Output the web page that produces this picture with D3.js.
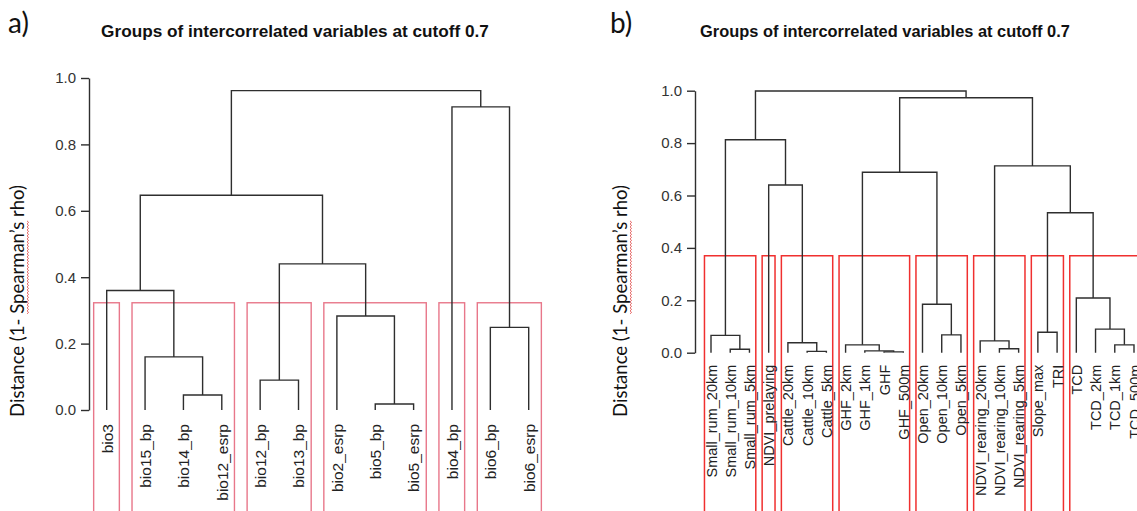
<!DOCTYPE html>
<html>
<head>
<meta charset="utf-8">
<script src="https://cdn.jsdelivr.net/npm/d3@7"></script>
<style>
    html, body { margin: 0; padding: 0; background: #fff; }
    svg { display: block; }
</style>
</head>
<body>
<div id="chart"></div>
<script>
// ---- data -------------------------------------------------------------
const titleText = "Groups of intercorrelated variables at cutoff 0.7";
const yLabel = "Distance (1- Spearman\u2019s rho)";
const yTicks = [0, 0.2, 0.4, 0.6, 0.8, 1.0];

// panel a) leaves, in dendrogram order
const leavesA = ["bio3", "bio15_bp", "bio14_bp", "bio12_esrp", "bio12_bp", "bio13_bp",
    "bio2_esrp", "bio5_bp", "bio5_esrp", "bio4_bp", "bio6_bp", "bio6_esrp"];
// merges like R hclust: negative = leaf (1-based), positive = earlier merge; [left, right, height]
const mergesA = [
    [-8, -9, 0.018],
    [-3, -4, 0.045],
    [-5, -6, 0.09],
    [-2, 2, 0.16],
    [-11, -12, 0.249],
    [-7, 1, 0.283],
    [-1, 4, 0.36],
    [3, 6, 0.44],
    [7, 8, 0.647],
    [-10, 5, 0.913],
    [9, 10, 0.962]
];
const groupsA = [1, 3, 2, 3, 1, 2];
const cutA = 0.323;

// panel b)
const leavesB = ["Small_rum_20km", "Small_rum_10km", "Small_rum_5km", "NDVI_prelaying",
    "Cattle_20km", "Cattle_10km", "Cattle_5km", "GHF_2km", "GHF_1km", "GHF", "GHF_500m",
    "Open_20km", "Open_10km", "Open_5km", "NDVI_rearing_20km", "NDVI_rearing_10km",
    "NDVI_rearing_5km", "Slope_max", "TRI", "TCD", "TCD_2km", "TCD_1km", "TCD_500m"];
const mergesB = [
    [-10, -11, 0.003],
    [-6, -7, 0.005],
    [-9, 1, 0.007],
    [-2, -3, 0.013],
    [-16, -17, 0.015],
    [-8, 3, 0.03],
    [-22, -23, 0.03],
    [-5, 2, 0.038],
    [-15, 5, 0.045],
    [-1, 4, 0.066],
    [-13, -14, 0.068],
    [-18, -19, 0.078],
    [-21, 7, 0.09],
    [-12, 11, 0.185],
    [-20, 13, 0.209],
    [12, 15, 0.534],
    [-4, 8, 0.64],
    [6, 14, 0.689],
    [9, 16, 0.713],
    [10, 17, 0.813],
    [18, 19, 0.973],
    [20, 21, 0.999]
];
const groupsB = [3, 1, 3, 4, 3, 3, 2, 4];
const cutB = 0.37;

// ---- layout -----------------------------------------------------------
const W = 1137, H = 511;
const panels = [
    {
        tag: "a)", tagX: 8, tagY: 33,
        leaves: leavesA, merges: mergesA, groups: groupsA, cut: cutA,
        xRange: [106.7, 528.7], yRange: [410, 78], axisX: 89,
        titleX: 295, titleSize: 17.2, labelX: 24, labelY: 301, labelSize: 15.5, leafGap: 14,
        boxColor: "#e8778a", boxWidth: 1.4
    },
    {
        tag: "b)", tagX: 610, tagY: 33,
        leaves: leavesB, merges: mergesB, groups: groupsB, cut: cutB,
        xRange: [711, 1134], yRange: [352.7, 90.7], axisX: 695,
        titleX: 885, titleSize: 16.4, labelX: 627, labelY: 301, labelSize: 14.5, leafGap: 12,
        boxColor: "#f0302f", boxWidth: 1.5
    }
];

const svg = d3.select("#chart").append("svg")
    .attr("width", W)
    .attr("height", H);

const ink = "#2e2e2e";
const arial = "'Liberation Sans', Arial, sans-serif";
const calibri = "Lato, 'Open Sans', sans-serif";

panels.forEach(p => drawPanel(p));

function drawPanel(p) {
    const n = p.leaves.length;
    const x = d3.scaleLinear().domain([1, n]).range(p.xRange);
    const y = d3.scaleLinear().domain([0, 1]).range(p.yRange);
    const g = svg.append("g");

    // panel tag + title
    g.append("text")
        .attr("x", p.tagX).attr("y", p.tagY)
        .attr("font-family", calibri).attr("font-size", 28)
        .attr("fill", "#111")
        .text(p.tag);

    g.append("text")
        .attr("x", p.titleX).attr("y", 37)
        .attr("text-anchor", "middle")
        .attr("font-family", arial).attr("font-weight", "bold")
        .attr("font-size", p.titleSize).attr("fill", "#111")
        .text(titleText);

    // axis
    const axis = d3.axisLeft(y)
        .tickValues(yTicks)
        .tickFormat(d3.format(".1f"))
        .tickSize(8)
        .tickSizeOuter(0)
        .tickPadding(5);
    const ax = g.append("g")
        .attr("transform", `translate(${p.axisX},0)`)
        .call(axis);
    ax.selectAll("path, line").attr("stroke", ink).attr("stroke-width", 1.4);
    ax.selectAll("text")
        .attr("font-family", arial).attr("font-size", 15)
        .attr("fill", "#333");

    // y label (Word-style text with spell-check squiggle)
    const lab = g.append("g")
        .attr("transform", `translate(${p.labelX},${p.labelY}) rotate(-90)`);
    const lt = lab.append("text")
        .attr("text-anchor", "middle")
        .attr("font-family", calibri).attr("font-size", 20)
        .attr("fill", "#111")
        .text(yLabel);
    const len0 = lt.node().getComputedTextLength();
    lt.attr("font-size", 20 * 232 / len0);
    const node = lt.node();
    const i0 = yLabel.indexOf("Spearman");
    const i1 = i0 + "Spearman\u2019s".length - 1;
    const sx = node.getStartPositionOfChar(i0).x;
    const ex = node.getEndPositionOfChar(i1).x;
    let d = `M${sx},3`;
    for (let t = sx, k = 0; t < ex; t += 1.5, k++) d += `L${t + 1.5},${k % 2 ? 3 : 4.6}`;
    lab.append("path").attr("d", d)
        .attr("fill", "none").attr("stroke", "#e0403f").attr("stroke-width", 0.8);

    // red cluster boxes
    let start = 1;
    const boxes = p.groups.map(c => {
        const b = { first: start, last: start + c - 1 };
        start += c;
        return b;
    });
    g.append("g").selectAll("rect")
        .data(boxes)
        .join("rect")
        .attr("x", b => x(b.first - 0.34))
        .attr("y", y(p.cut))
        .attr("width", b => x(b.last + 0.33) - x(b.first - 0.34))
        .attr("height", H + 20 - y(p.cut))
        .attr("fill", "none")
        .attr("stroke", p.boxColor)
        .attr("stroke-width", p.boxWidth);

    // dendrogram
    const nodes = [];
    const pos = k => k < 0 ? { x: x(-k), h: 0 } : nodes[k - 1];
    p.merges.forEach(([a, b, h]) => {
        const l = pos(a), r = pos(b);
        nodes.push({ x: (l.x + r.x) / 2, h, l, r });
    });
    g.append("g").selectAll("path")
        .data(nodes)
        .join("path")
        .attr("d", nd => `M${nd.l.x},${y(nd.l.h)}V${y(nd.h)}H${nd.r.x}V${y(nd.r.h)}`)
        .attr("fill", "none")
        .attr("stroke", ink)
        .attr("stroke-width", 1.4);

    // leaf labels
    g.append("g").selectAll("text")
        .data(p.leaves)
        .join("text")
        .attr("transform", (lbl, i) =>
            `translate(${x(i + 1) + 0.38 * p.labelSize},${y(0) + p.leafGap}) rotate(-90)`)
        .attr("text-anchor", "end")
        .attr("font-family", arial)
        .attr("font-size", p.labelSize)
        .attr("fill", "#222")
        .text(lbl => lbl);
}
</script>
</body>
</html>
